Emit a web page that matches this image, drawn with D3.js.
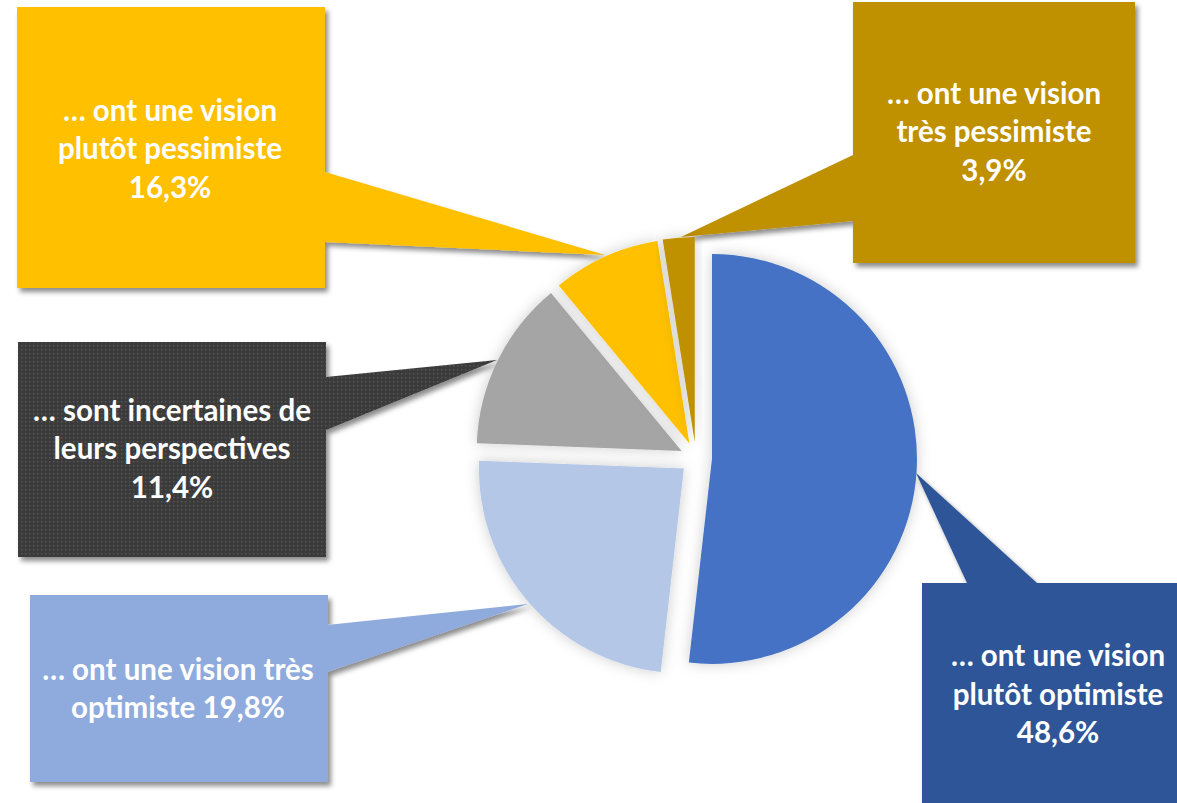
<!DOCTYPE html>
<html><head><meta charset="utf-8">
<script src="https://cdn.jsdelivr.net/npm/d3@7"></script>
<style>html,body{margin:0;padding:0;background:#fff;overflow:hidden}</style>
</head><body>
<svg id="c" width="1177" height="803"></svg>
<script>
// ---- data ----
const categories = ["plutôt optimiste", "très optimiste", "incertaines", "plutôt pessimiste", "très pessimiste"];
const pieValues = [51.8, 23.8, 13.4, 8.5, 2.5];           // slice sizes as drawn
const labelValues = ["48,6%", "19,8%", "11,4%", "16,3%", "3,9%"]; // printed values
const labelLines = [
  ["… ont une vision", "plutôt optimiste", labelValues[0]],
  ["… ont une vision très", "optimiste " + labelValues[1]],
  ["… sont incertaines de", "leurs perspectives", labelValues[2]],
  ["… ont une vision", "plutôt pessimiste", labelValues[3]],
  ["… ont une vision", "très pessimiste", labelValues[4]]
];
const sliceColors = ["#4472C4", "#B4C7E7", "#A5A5A5", "#FFC000", "#BF9000"];
const boxColors = ["#2F5597", "#8FAADC", "url(#dots)", "#FFC000", "#BF9000"];

// ---- layout ----
const cx = 696, cy = 458, R = 205, explode = 16;
const boxes = [
  {x: 922, y: 583, w: 272, h: 240, ptr: [[967, 583], [916, 473], [1037, 583]], tx: 1058, ty: 704.5},
  {x: 30, y: 595, w: 298, h: 187, ptr: [[327, 625], [528, 604], [327, 672]], tx: 178, ty: 699},
  {x: 18, y: 342, w: 308, h: 215, ptr: [[326, 377], [497, 360], [326, 430]], tx: 172, ty: 459},
  {x: 17, y: 7, w: 308, h: 281, ptr: [[325, 172], [605, 255], [325, 242]], tx: 170, ty: 159},
  {x: 853, y: 2, w: 282, h: 261, ptr: [[853, 155], [681, 237], [853, 221]], tx: 994, ty: 142}
];
const lineH = 38.5;

const svg = d3.select("#c");
const defs = svg.append("defs");
const pat = defs.append("pattern").attr("id", "dots").attr("patternUnits", "userSpaceOnUse")
  .attr("width", 4).attr("height", 4);
pat.append("rect").attr("width", 4).attr("height", 4).attr("fill", "#3A3A3A");
pat.append("rect").attr("x", 1).attr("y", 1).attr("width", 1.4).attr("height", 1.4).attr("fill", "#575757");

const fb = defs.append("filter").attr("id", "boxShadow").attr("x", "-10%").attr("y", "-10%").attr("width", "130%").attr("height", "130%");
fb.append("feDropShadow").attr("dx", 3).attr("dy", 4).attr("stdDeviation", 2.5)
  .attr("flood-color", "#000").attr("flood-opacity", 0.45);
const fp = defs.append("filter").attr("id", "pieGlow").attr("x", "-20%").attr("y", "-20%").attr("width", "140%").attr("height", "140%");
fp.append("feDropShadow").attr("dx", 0).attr("dy", 0).attr("stdDeviation", 7)
  .attr("flood-color", "#000").attr("flood-opacity", 0.2);

// callouts
const gBoxes = svg.append("g");
boxes.forEach((b, i) => {
  const p = d3.path();
  p.rect(b.x, b.y, b.w, b.h);
  const g = gBoxes.append("g").attr("filter", "url(#boxShadow)");
  g.append("path").attr("d", p.toString()).attr("fill", boxColors[i]);
  g.append("path").attr("d", d3.line()(b.ptr) + "Z").attr("fill", boxColors[i]);
});

// pie
const arcs = d3.pie().sort(null).value(d => d).startAngle(0).endAngle(2 * Math.PI)(pieValues);
const arc = d3.arc().innerRadius(0).outerRadius(R);
const gPie = svg.append("g").attr("transform", `translate(${cx},${cy})`);
gPie.selectAll("path").data(arcs).join("path")
  .attr("transform", d => {
    const m = (d.startAngle + d.endAngle) / 2;
    return `translate(${Math.sin(m) * explode},${-Math.cos(m) * explode})`;
  })
  .attr("d", arc)
  .attr("fill", (d, i) => sliceColors[i])
  .attr("filter", "url(#pieGlow)");

// texts
const gText = svg.append("g").attr("font-family", "Lato, 'Open Sans', sans-serif")
  .attr("font-weight", 700).attr("fill", "#fff").attr("text-anchor", "middle");
const texts = [];
boxes.forEach((b, i) => {
  const n = labelLines[i].length;
  labelLines[i].forEach((ln, k) => {
    const t = gText.append("text").attr("x", b.tx)
      .attr("y", b.ty + (k - (n - 1) / 2) * lineH)
      .attr("font-size", 28).text(ln);
    texts.push(t);
  });
});
// fit font size: reference line "… sont incertaines de" is ~278px wide
const ref = texts.find(t => t.text() === "… sont incertaines de");
const len = ref.node().getComputedTextLength();
const fs = 28 * 278 / len;
texts.forEach(t => t.attr("font-size", fs.toFixed(2)));
</script>
</body></html>
